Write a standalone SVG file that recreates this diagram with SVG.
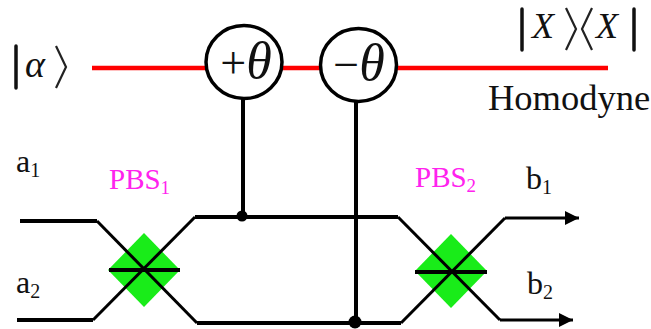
<svg xmlns="http://www.w3.org/2000/svg" width="651" height="329" viewBox="0 0 651 329">
<style>
.w{fill:none;stroke:#000;stroke-width:4}
.d{fill:none;stroke:#000;stroke-width:3}
.c{fill:#fff;stroke:#000;stroke-width:3.5}
.pbs{fill:#19ec19}
.tm{fill:#111}
.it{font-style:italic}
.m{fill:#ff22ee}
.br{fill:none;stroke:#222;stroke-width:2.2}
.bar{fill:none;stroke:#111;stroke-width:3.5;stroke-linecap:round}
text{font-family:"Liberation Serif",serif}
</style>
<defs><marker id="ah" markerUnits="userSpaceOnUse" markerWidth="16" markerHeight="16" refX="14" refY="7" orient="auto"><path d="M0 0L14 7L0 14Z" fill="#000"/></marker></defs>
<g id="red-beam"><path d="M92 68H608" fill="none" stroke="#f00" stroke-width="4.5"/></g>
<g id="pbs1"><path class="pbs" d="M144 233L180 270L144 307L108 270Z"/><text x="109" y="189" class="m" font-size="29">PBS<tspan font-size="19" dy="5">1</tspan></text></g>
<g id="pbs2"><path class="pbs" d="M451 234L487 271L451 308L415 271Z"/><text x="415" y="187" class="m" font-size="29">PBS<tspan font-size="19" dy="5">2</tspan></text></g>
<g id="connectors">
<path class="w" d="M20 221H97"/>
<path class="d" d="M97 221L197 323"/>
<path class="w" d="M197 323H401"/>
<path class="d" d="M401 323L505 218"/>
<path class="d" d="M505 218H579" marker-end="url(#ah)"/>
<path class="w" d="M17 320H93"/>
<path class="d" d="M93 320L195 217"/>
<path class="w" d="M195 217H398"/>
<path class="d" d="M398 217L500 320"/>
<path class="d" d="M500 320H573" marker-end="url(#ah)"/>
<path class="w" d="M243 99V217"/>
<path class="w" d="M356 102V323"/>
<path class="w" d="M109 270H180"/>
<path class="w" d="M415 272H487"/>
<circle cx="242" cy="216" r="5.5"/>
<circle cx="355" cy="322" r="6.5"/>
</g>
<g id="phase-plus"><ellipse class="c" cx="244" cy="62" rx="38" ry="36.5"/><text x="246" y="78" text-anchor="middle" class="tm" font-size="52"><tspan font-size="46">+</tspan><tspan class="it">θ</tspan></text></g>
<g id="phase-minus"><ellipse class="c" cx="358.500" cy="65" rx="38" ry="36.500"/><text x="359" y="80" text-anchor="middle" class="tm" font-size="52"><tspan font-size="46">−</tspan><tspan class="it">θ</tspan></text></g>
<g id="input-state"><path class="bar" d="M16 46V88"/><text x="25" y="77" class="tm it" font-size="38">α</text><path class="br" d="M56 46L66 67L56 88"/></g>
<g id="homodyne-state"><path class="bar" d="M522 9V50"/><text x="532" y="38" class="tm it" font-size="36">X</text><path class="br" d="M566 8L576 29L566 50M592 8L582 29L592 50"/><text x="596" y="38" class="tm it" font-size="36">X</text><path class="bar" d="M634 9V50"/></g>
<g id="labels">
<text x="488" y="110" class="tm" font-size="36.500">Homodyne</text>
<text x="16" y="172" class="tm" font-size="32">a<tspan font-size="20" dy="5">1</tspan></text>
<text x="16" y="293" class="tm" font-size="32">a<tspan font-size="20" dy="5">2</tspan></text>
<text x="526" y="189" class="tm" font-size="32">b<tspan font-size="20" dy="5">1</tspan></text>
<text x="527" y="294" class="tm" font-size="32">b<tspan font-size="20" dy="5">2</tspan></text>
</g>
</svg>
